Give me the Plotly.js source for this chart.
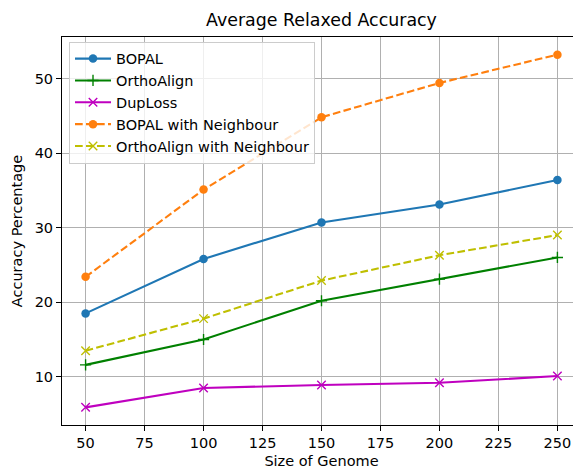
<!DOCTYPE html>
<html>
<head>
<meta charset="utf-8">
<script src="https://cdn.plot.ly/plotly-3.0.1.min.js"></script>
<style>
html, body { margin: 0; padding: 0; overflow: hidden; background: #fff; }
#chart { width: 582px; height: 471px; }
</style>
</head>
<body>
<div id="chart"></div>
<script>
const genomeSizes = [50, 100, 150, 200, 250];
const bopal = [18.5, 25.8, 30.7, 33.1, 36.4];
const orthoAlign = [11.6, 15.0, 20.2, 23.1, 26.0];
const dupLoss = [5.9, 8.5, 8.9, 9.2, 10.1];
const bopalNeighbour = [23.4, 35.1, 44.8, 49.4, 53.2];
const orthoAlignNeighbour = [13.5, 17.8, 22.9, 26.3, 29.0];
const xTicks = [50, 75, 100, 125, 150, 175, 200, 225, 250];
const yTicks = [10, 20, 30, 40, 50];

const FONT = 'DejaVu Sans, sans-serif';
const FS = 14.5;
const dash = '7.7px,3.3px';

const traces = [
  {name: 'BOPAL', x: genomeSizes, y: bopal, mode: 'lines+markers',
   line: {color: '#1f77b4', width: 2.1},
   marker: {symbol: 'circle', size: 8.5, color: '#1f77b4'}},
  {name: 'OrthoAlign', x: genomeSizes, y: orthoAlign, mode: 'lines+markers',
   line: {color: '#008000', width: 2.1},
   marker: {symbol: 'cross-thin', size: 8, color: '#008000', line: {color: '#008000', width: 1.4}}},
  {name: 'DupLoss', x: genomeSizes, y: dupLoss, mode: 'lines+markers',
   line: {color: '#bf00bf', width: 2.1},
   marker: {symbol: 'x-thin', size: 8.5, color: '#bf00bf', line: {color: '#bf00bf', width: 1.4}}},
  {name: 'BOPAL with Neighbour', x: genomeSizes, y: bopalNeighbour, mode: 'lines+markers',
   line: {color: '#ff7f0e', width: 2.1, dash: dash},
   marker: {symbol: 'circle', size: 8.5, color: '#ff7f0e'}},
  {name: 'OrthoAlign with Neighbour', x: genomeSizes, y: orthoAlignNeighbour, mode: 'lines+markers',
   line: {color: '#bfbf00', width: 2.1, dash: dash},
   marker: {symbol: 'x-thin', size: 8.5, color: '#bfbf00', line: {color: '#bfbf00', width: 1.4}}}
];

const layout = {
  width: 582, height: 471,
  margin: {l: 62, r: 1, t: 37, b: 46},
  paper_bgcolor: '#fff', plot_bgcolor: '#fff',
  font: {family: FONT, size: FS, color: '#000'},
  title: {text: 'Average Relaxed Accuracy', font: {family: FONT, size: 17.4, color: '#000'},
          x: 0.5, xref: 'paper', y: 1 - 20 / 471, yref: 'container', yanchor: 'middle'},
  xaxis: {range: [40, 260], tickvals: xTicks, ticktext: xTicks.map(String),
          showgrid: true, gridcolor: '#b0b0b0', gridwidth: 1,
          showline: true, linecolor: '#000', linewidth: 1, mirror: true,
          ticks: 'outside', ticklen: 5, tickcolor: '#000', tickwidth: 1,
          zeroline: false, automargin: false,
          title: {text: 'Size of Genome', font: {family: FONT, size: FS, color: '#000'}, standoff: 5}},
  yaxis: {range: [3.535, 55.565], tickvals: yTicks, ticktext: yTicks.map(String),
          showgrid: true, gridcolor: '#b0b0b0', gridwidth: 1,
          showline: true, linecolor: '#000', linewidth: 1, mirror: true,
          ticks: 'outside', ticklen: 5, tickcolor: '#000', tickwidth: 1,
          zeroline: false, automargin: false,
          title: {text: 'Accuracy Percentage', font: {family: FONT, size: FS, color: '#000'}, standoff: 8}},
  showlegend: true,
  legend: {x: 0.0135, y: 0.988, xanchor: 'left', yanchor: 'top',
           bgcolor: 'rgba(255,255,255,0.8)', bordercolor: '#cccccc', borderwidth: 1,
           font: {family: FONT, size: FS, color: '#000'},
           tracegroupgap: 0, itemwidth: 36}
};

Plotly.newPlot('chart', traces, layout, {displayModeBar: false, staticPlot: true});
</script>
</body>
</html>
